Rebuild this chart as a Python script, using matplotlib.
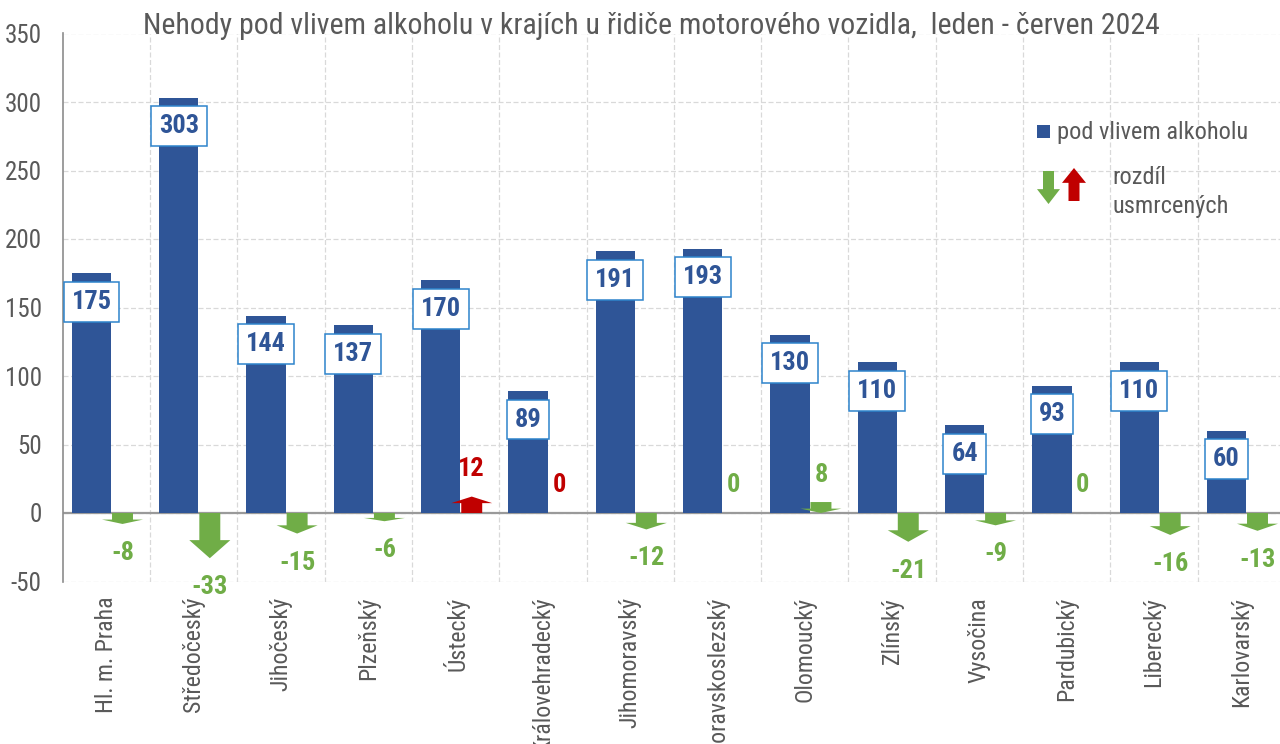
import matplotlib
matplotlib.use("Agg")
import matplotlib.pyplot as plt
import matplotlib.font_manager as fm
from matplotlib.patches import Polygon, Rectangle

# ---- data ----
categories = ["Hl. m. Praha", "Středočeský", "Jihočeský", "Plzeňský", "Ústecký",
              "Královehradecký", "Jihomoravský", "Moravskoslezský", "Olomoucký",
              "Zlínský", "Vysočina", "Pardubický", "Liberecký", "Karlovarský"]
accidents = [175, 303, 144, 137, 170, 89, 191, 193, 130, 110, 64, 93, 110, 60]
diff_killed = [-8, -33, -15, -6, 12, 0, -12, 0, 8, -21, -9, 0, -16, -13]
arrow_down = [True, True, True, True, False, False, True, True, True, True, True, True, True, True]
label_red = [False, False, False, False, True, True, False, False, False, False, False, False, False, False]
yticks = [-50, 0, 50, 100, 150, 200, 250, 300, 350]
title = "Nehody pod vlivem alkoholu v krajích u řidiče motorového vozidla,  leden - červen 2024"
legend_bar = "pod vlivem alkoholu"
legend_arrow = "rozdíl\nusmrcených"

# ---- style ----
names = {f.name for f in fm.fontManager.ttflist}
NARROW = "Liberation Sans"
for cand in ["Liberation Sans Narrow", "Arial Narrow", "Roboto Condensed",
             "PT Sans Narrow", "Archivo Narrow", "Pragati Narrow"]:
    if cand in names:
        NARROW = cand
        break
BLUE = "#2F5597"
BOXEDGE = "#2E84CC"
GREEN = "#70AD47"
RED = "#C00000"
GRAY = "#595959"

W, H = 1280, 744
fig = plt.figure(figsize=(W / 100, H / 100), dpi=100)
x0, x1, ytop, ybot = 62.7, 1285.0, 33.5, 581.5
ax = fig.add_axes([x0 / W, 1 - ybot / H, (x1 - x0) / W, (ybot - ytop) / H])
n = len(categories)
ax.set_xlim(0, n)
ax.set_ylim(-50, 350)

# grid
ax.set_yticks(yticks)
ax.set_yticklabels([str(v) for v in yticks], fontfamily=NARROW, fontsize=18, color=GRAY)
ax.set_xticks([i + 0.5 for i in range(n)])
ax.set_xticklabels(categories, rotation=90, fontfamily=NARROW, fontsize=17.2, color=GRAY,
                   ha="center", va="top")
ax.set_xticks(list(range(1, n)), minor=True)
ax.tick_params(axis="both", which="both", length=0)
ax.tick_params(axis="y", pad=15)
ax.tick_params(axis="x", pad=11)
ax.grid(True, axis="y", which="major", linestyle=(0, (4, 2)), color="#D9D9D9", linewidth=0.9)
ax.grid(True, axis="x", which="minor", linestyle=(0, (4, 2)), color="#D9D9D9", linewidth=0.9)
ax.set_axisbelow(True)
for s in ["top", "right", "bottom"]:
    ax.spines[s].set_visible(False)
ax.spines["left"].set_color("#8C8C8C")
ax.spines["left"].set_linewidth(1.2)
ax.axhline(0, color="#9A9A9A", linewidth=1.6, zorder=2)

# bars
bar_off, bar_w = 0.33, 0.45
xs_bar = [i + bar_off for i in range(n)]
ax.bar(xs_bar, accidents, width=bar_w, color=BLUE, zorder=3)

for xb, v in zip(xs_bar, accidents):
    ax.annotate(str(v), (xb, v), xytext=(0, -28.5), textcoords="offset pixels",
                ha="center", va="center", fontfamily=NARROW, fontsize=19,
                fontweight="bold", color=BLUE, zorder=5,
                bbox=dict(boxstyle="square,pad=0.3", fc="white", ec=BOXEDGE, lw=1.1))


def arrow_pts(xc, y_start, y_end, head_hw, shaft_hw, head_frac=0.4):
    L = y_end - y_start
    yh = y_start + L * (1 - head_frac)
    return [(xc - shaft_hw, y_start), (xc + shaft_hw, y_start), (xc + shaft_hw, yh),
            (xc + head_hw, yh), (xc, y_end), (xc - head_hw, yh), (xc - shaft_hw, yh)]


# difference arrows
arr_off = 0.685
for i, (d, down, red) in enumerate(zip(diff_killed, arrow_down, label_red)):
    xc = i + arr_off
    if d != 0:
        top, bot = max(d, 0), min(d, 0)
        if down:
            pts = arrow_pts(xc, top, bot, 0.235, 0.12)
            col = GREEN
        else:
            pts = arrow_pts(xc, bot, top, 0.235, 0.12)
            col = RED
        ax.add_patch(Polygon(pts, closed=True, fc=col, ec="none", zorder=4))
    off = 27.5 if d >= 0 else -29
    ax.annotate(str(d), (xc, d), xytext=(0, off), textcoords="offset pixels",
                ha="center", va="center", fontfamily=NARROW, fontsize=19,
                fontweight="bold", color=RED if red else GREEN, zorder=5)

# title
fig.text(651.5 / W, 1 - 26 / H, title, ha="center", va="center", fontfamily=NARROW,
         fontsize=21.5, color=GRAY)

# legend (figure pixel coordinates)
def fx(px):
    return px / W


def fy(py):
    return 1 - py / H


fig.patches.append(Rectangle((fx(1037), fy(138)), 13 / W, 13 / H, transform=fig.transFigure,
                             fc=BLUE, ec="none"))
fig.text(fx(1057), fy(132), legend_bar, ha="left", va="center", fontfamily=NARROW,
         fontsize=17.6, color=GRAY)
g = [(fx(x), fy(y)) for x, y in arrow_pts(1048.5, 171, 204, 11.5, 5.5, 0.45)]
r = [(fx(x), fy(y)) for x, y in arrow_pts(1074, 201, 168, 12, 5.5, 0.45)]
fig.patches.append(Polygon(g, closed=True, transform=fig.transFigure, fc=GREEN, ec="none"))
fig.patches.append(Polygon(r, closed=True, transform=fig.transFigure, fc=RED, ec="none"))
fig.text(fx(1112), fy(192), legend_arrow, ha="left", va="center", fontfamily=NARROW,
         fontsize=17.6, color=GRAY, linespacing=1.35)

fig.savefig("out.png", dpi=100)
